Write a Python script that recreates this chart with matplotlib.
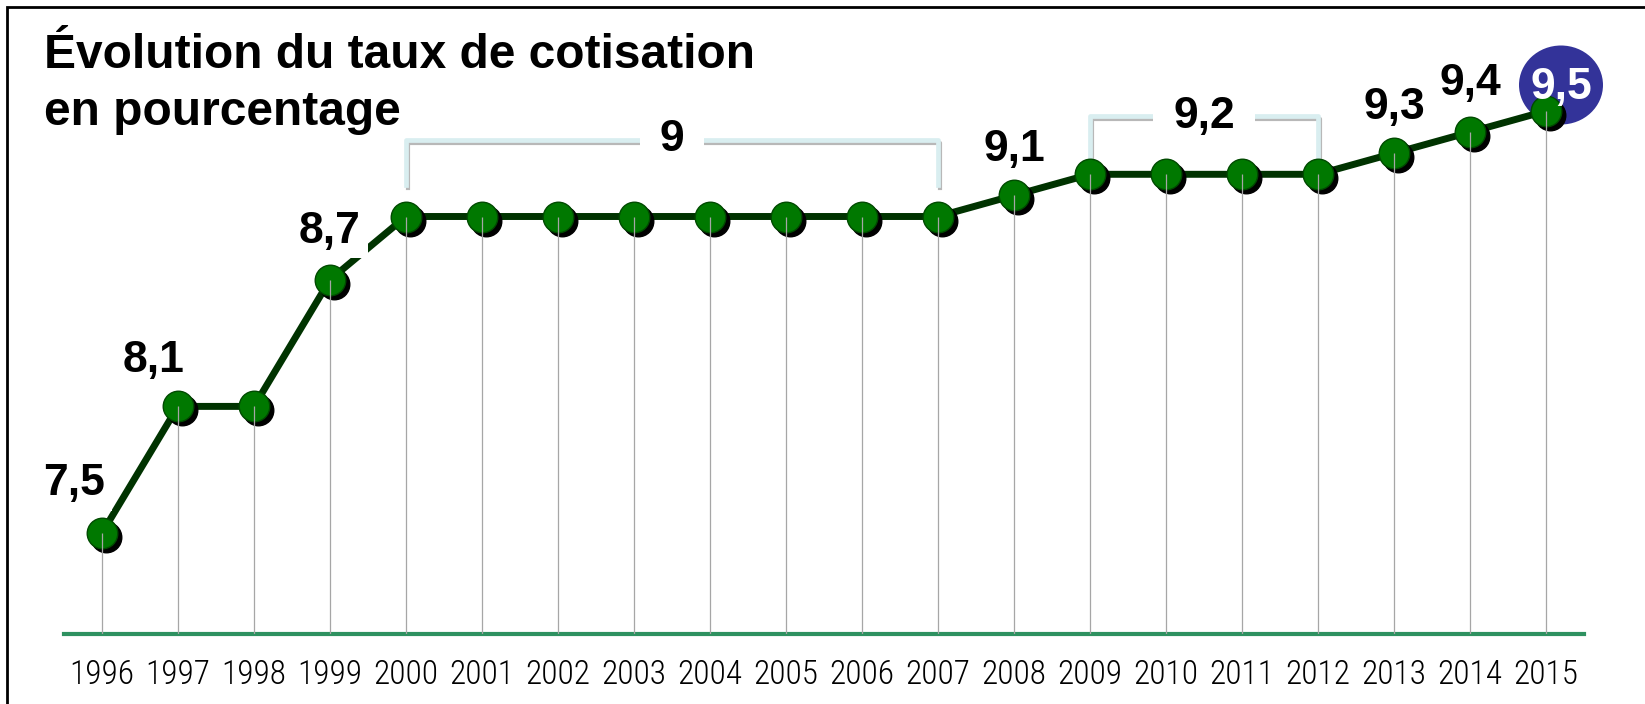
import matplotlib.pyplot as plt
from matplotlib.patches import Ellipse, Rectangle
from matplotlib.transforms import offset_copy, Affine2D, ScaledTranslation

# Data: contribution rate (%) per year
years = ['1996', '1997', '1998', '1999', '2000', '2001', '2002', '2003', '2004', '2005',
         '2006', '2007', '2008', '2009', '2010', '2011', '2012', '2013', '2014', '2015']
rates = [7.5, 8.1, 8.1, 8.7, 9.0, 9.0, 9.0, 9.0, 9.0, 9.0,
         9.0, 9.0, 9.1, 9.2, 9.2, 9.2, 9.2, 9.3, 9.4, 9.5]

# which points get their own label, and the bracketed flat periods
labelled = [0, 1, 3, 12, 17, 18]
highlight = 19
groups = [(4, 11, '9'), (13, 16, '9,2')]

def fr(v):
    return ('%.1f' % v).replace('.', ',')

fig = plt.figure(figsize=(16.45, 7.04), dpi=100)
ax = fig.add_axes([0, 70 / 704, 1, 634 / 704])
x = list(range(len(years)))
ax.set_xlim(-102 / 76, (1645 - 102) / 76)
ax.set_ylim(7.5 - 101 / 211, 7.5 + 533 / 211)
base = ax.get_ylim()[0]

for s in ['top', 'left', 'right']:
    ax.spines[s].set_visible(False)
ax.spines['bottom'].set_color('#2e9160')
ax.spines['bottom'].set_linewidth(3)
ax.spines['bottom'].set_bounds(-0.5, 19.5)
ax.set_yticks([])
ax.set_xticks(x, years, family=['Roboto Condensed', 'DejaVu Sans'], fontstretch='condensed',
              fontsize=24, fontweight='light')
ax.tick_params(axis='x', length=0, pad=18)

# thin grey drop lines from baseline to each point
ax.vlines(x, base, rates, color='#a6a6a6', lw=0.9, zorder=5)

# line + shadowed markers
ax.plot(x, rates, color='#003300', lw=5, zorder=2, solid_capstyle='round')
shadow = offset_copy(ax.transData, fig=fig, x=4, y=-4, units='dots')
ax.plot(x, rates, 'o', ms=22, color='black', mec='black', transform=shadow, zorder=3)
ax.plot(x, rates, 'o', ms=22, color='#007800', mec='#004a00', mew=1, zorder=4)

lab_font = dict(family=['Liberation Sans', 'DejaVu Sans'], fontweight='bold', fontsize=32)
offsets = {0: (-28, 38), 1: (-24, 34), 3: (0, 37), 12: (0, 34), 17: (0, 34), 18: (0, 37)}
for i in labelled:
    dx, dy = offsets[i]
    ax.annotate(fr(rates[i]), (x[i], rates[i]), xytext=(dx * 0.72, dy * 0.72),
                textcoords='offset points', ha='center', va='baseline', zorder=6,
                bbox=dict(boxstyle='square,pad=0.15', fc='white', ec='none'), **lab_font)

# highlighted last value in a navy ellipse
i = highlight
ell_tr = Affine2D().translate(15, 26) + ScaledTranslation(x[i], rates[i], ax.transData)
ax.add_patch(Ellipse((0, 0), 84, 79, transform=ell_tr, fc='#333399', ec='none', zorder=1))
ax.annotate(fr(rates[i]), (x[i], rates[i]), xytext=(15 * 0.72, 12 * 0.72),
            textcoords='offset points', ha='center', va='baseline', color='white',
            zorder=6, **lab_font)

# brackets over the flat periods
bracket_h = [(0.149, 0.363), (0.08, 0.275)]
for (a, b, txt), (lo, hi) in zip(groups, bracket_h):
    v = rates[a]
    bx = [x[a], x[a], x[b], x[b]]
    by = [v + lo, v + hi, v + hi, v + lo]
    sh = offset_copy(ax.transData, fig=fig, x=2, y=-3, units='dots')
    ax.plot(bx, by, color='#b8b8b8', lw=3, transform=sh, zorder=1, solid_joinstyle='round')
    ax.plot(bx, by, color='#d9eef0', lw=3.4, zorder=1.5, solid_joinstyle='round')
    ax.text((x[a] + x[b]) / 2, v + hi, txt, ha='center', va='center', zorder=6,
            bbox=dict(boxstyle='square,pad=0.45', fc='white', ec='none'), **lab_font)

# title
tfont = dict(family=['Liberation Sans', 'DejaVu Sans'], fontweight='bold', fontsize=34.5)
fig.text(44 / 1645, 1 - 68 / 704, 'Évolution du taux de cotisation', va='baseline', **tfont)
fig.text(44 / 1645, 1 - 125 / 704, 'en pourcentage', va='baseline', **tfont)

# outer frame
fig.add_artist(Rectangle((7 / 1645, -0.1), 1.2, 1.1 - 7 / 704, transform=fig.transFigure,
                         fill=False, ec='black', lw=2))

plt.savefig('out.png', dpi=100)
